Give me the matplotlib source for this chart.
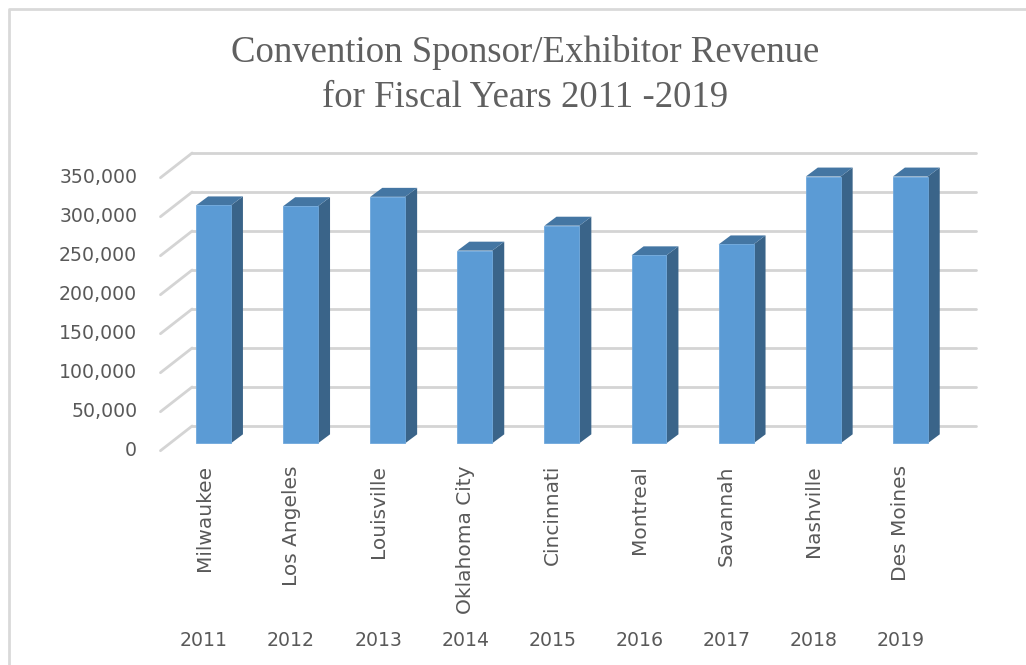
import matplotlib
matplotlib.use('Agg')
from matplotlib import pyplot as plt
from matplotlib.lines import Line2D
import matplotlib.transforms as mtransforms

years = ['2011', '2012', '2013', '2014', '2015', '2016', '2017', '2018', '2019']
cities = ['Milwaukee', 'Los Angeles', 'Louisville', 'Oklahoma City', 'Cincinnati',
          'Montreal', 'Savannah', 'Nashville', 'Des Moines']
revenue = [305000, 304000, 316000, 247000, 279000, 241000, 255000, 342000, 342000]
y_ticks = [0, 50000, 100000, 150000, 200000, 250000, 300000, 350000]

FRONT = '#5B9BD5'
SIDE = '#3A6489'
TOP = '#4476A3'
GRID = '#D4D4D4'
TEXT = '#595959'

W, H = 1026, 665

# depth of the fake 3d look, in data units (category, value)
bar_w = 0.40
bar_dx, bar_dy = 0.138, 11500
front_dx, front_dy = -0.109, -9500
back_dx, back_dy = 0.255, 22200


def fmt(v):
    return f'{v:,}'


fig = plt.figure(figsize=(W / 100, H / 100), dpi=100)

# axes placed so that one category = 87.1 px and 350,000 = 273 px
xlim = (-0.75, 8.95)
ylim = (-20000, 380000)
left_px = 213.5 + xlim[0] * 87.1
right_px = 213.5 + xlim[1] * 87.1
bottom_px = 443.3 - ylim[0] * 273 / 350000
top_px = 443.3 - ylim[1] * 273 / 350000
ax = fig.add_axes([left_px / W, 1 - bottom_px / H,
                   (right_px - left_px) / W, (bottom_px - top_px) / H])
ax.set_xlim(*xlim)
ax.set_ylim(*ylim)
ax.axis('off')

n = len(cities)
x_left = -0.5
x_right = n - 0.5

# gridlines: diagonal on the left side, then along the back wall
for v in y_ticks:
    ax.plot([x_left + front_dx, x_left + back_dx], [v + front_dy, v + back_dy],
            color=GRID, lw=2, zorder=1, solid_capstyle='round')
    ax.plot([x_left + back_dx, x_right + back_dx], [v + back_dy, v + back_dy],
            color=GRID, lw=2, zorder=1, solid_capstyle='round')

# bars: front face with ax.bar, side and top as polygons
xs = list(range(n))
ax.bar(xs, revenue, width=bar_w, color=FRONT, edgecolor='#6FA8DC', lw=0.6, zorder=4)
for i, v in zip(xs, revenue):
    r = i + bar_w / 2
    l = i - bar_w / 2
    ax.fill([r, r + bar_dx, r + bar_dx, r], [0, bar_dy, v + bar_dy, v],
            color=SIDE, zorder=3, lw=0)
    ax.fill([l, l + bar_dx, r + bar_dx, r], [v, v + bar_dy, v + bar_dy, v],
            color=TOP, zorder=3, lw=0)

# value labels on the left, at the front ends of the gridlines
trans_y = mtransforms.blended_transform_factory(ax.transAxes, ax.transData)
for v in y_ticks:
    ax.text(-0.013, v + front_dy, fmt(v), transform=trans_y, ha='right', va='center',
            fontsize=13.6, color=TEXT, clip_on=False)

# city names (rotated) and years below
trans_x = mtransforms.blended_transform_factory(ax.transData, fig.transFigure)
for i, (city, year) in enumerate(zip(cities, years)):
    ax.text(i + front_dx, 1 - 465 / H, city, transform=trans_x, rotation=90,
            ha='center', va='top', fontsize=14.5, color=TEXT, clip_on=False)
    ax.text(i + front_dx, 1 - 640 / H, year, transform=trans_x,
            ha='center', va='center', fontsize=13.6, color=TEXT, clip_on=False)

fig.text(525 / W, 1 - 62 / H, 'Convention Sponsor/Exhibitor Revenue', ha='center',
         va='baseline', fontsize=26.5, family='Liberation Serif', color='#606060')
fig.text(525 / W, 1 - 107 / H, 'for Fiscal Years 2011 -2019', ha='center',
         va='baseline', fontsize=26.5, family='Liberation Serif', color='#606060')

# chart border (only left and top are inside the picture)
fig.add_artist(Line2D([9 / W, 9 / W, 1.01], [-0.01, 1 - 9 / H, 1 - 9 / H],
                      transform=fig.transFigure, color='#D9D9D9', lw=2))

fig.savefig('out.png', dpi=100)
